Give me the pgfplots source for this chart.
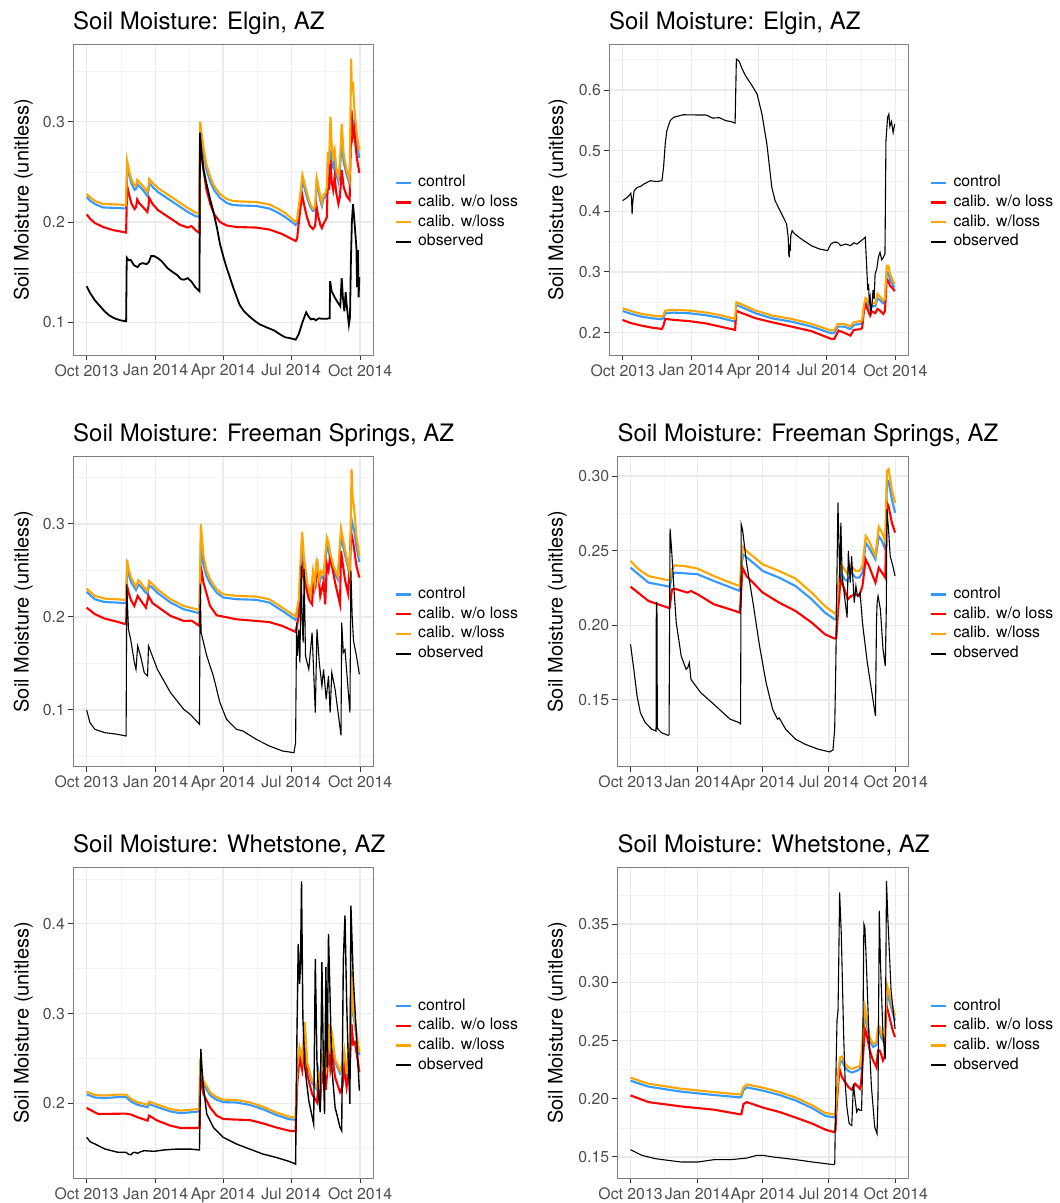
\documentclass[border=0pt]{standalone}
\usepackage{fontspec}
\setmainfont{TeX Gyre Heros}
\usepackage{pgfplots}
\pgfplotsset{compat=1.18}

\definecolor{serblue}{RGB}{51,153,255}
\definecolor{serred}{RGB}{255,0,0}
\definecolor{serorange}{RGB}{255,165,0}
\definecolor{pborder}{RGB}{127,127,127}
\definecolor{tickc}{RGB}{51,51,51}
\definecolor{tlabc}{RGB}{77,77,77}
\definecolor{gridmaj}{RGB}{235,235,235}
\definecolor{gridmin}{RGB}{243,243,243}

\newcommand\titlefont{\fontsize{24}{28}\selectfont}
\newcommand\labfont{\fontsize{20}{24}\selectfont}
\newcommand\tickfont{\fontsize{15.8}{19}\selectfont}

\pgfplotsset{
 smp/.style={
  scale only axis, anchor=north west,
  xmin=-18.2, xmax=382.2,
  xtick={0,92,182,273,365},
  xticklabels={Oct 2013,Jan 2014,Apr 2014,Jul 2014,Oct 2014},
  minor xtick={46,137,227.5,319},
  grid=both,
  major grid style={draw=gridmaj, line width=1.3pt},
  minor grid style={draw=gridmin, line width=0.7pt},
  axis line style={draw=pborder, line width=1pt},
  tick align=outside, xtick pos=bottom, ytick pos=left,
  major tick length=5pt, minor tick length=0pt,
  major tick style={draw=tickc, line width=1pt},
  tick label style={font=\tickfont, text=tlabc},
  xticklabel style={anchor=north, inner sep=0pt, yshift=-4pt},
  yticklabel style={anchor=east, inner sep=0pt, xshift=-3pt},
  /pgf/number format/assume math mode=true,
  every axis title/.style={at={(axis description cs:0,1)}, anchor=base west, yshift=15pt, inner sep=0pt, font=\titlefont, text=black},
  every axis y label/.style={rotate=90, anchor=base, inner sep=0pt, font=\labfont},
  ylabel={Soil Moisture (unitless)},
  legend style={at={(axis description cs:1,0.459)}, anchor=west, xshift=22pt, draw=none, fill=none, inner sep=0pt, outer sep=0pt, font=\tickfont, row sep=3.7pt, column sep=6pt, nodes={inner sep=0pt, text height=12pt, text depth=4pt}},
  legend cell align=left,
  legend image code/.code={\draw[#1, line width=2.2pt] (0pt,0pt) -- (15pt,0pt);},
 },
}

\begin{document}
\begin{tikzpicture}
\useasboundingbox (0pt,0pt) rectangle (1060pt,-1203pt);

% ---------------- Panel 1: Elgin (left) ----------------
\begin{axis}[smp, at={(73pt,-44pt)}, width=300pt, height=311pt,
  ymin=0.0674, ymax=0.3775, ytick={0.1,0.2,0.3}, yticklabels={0.1,0.2,0.3},
  minor ytick={0.15,0.25,0.35},
  ylabel style={at={(axis description cs:-0.148,0.5)}},
  title={Soil Moisture: Elgin, AZ}]
\addplot[color=serblue, line width=2.1pt, mark=none] coordinates {(0,0.225) (5,0.221) (11,0.218) (22,0.2145) (40,0.214) (52.7,0.2135) (54,0.256) (57,0.246) (60,0.238) (64,0.232) (66,0.233) (67.5,0.238) (70,0.236) (75,0.232) (81,0.226) (82.6,0.232) (83.5,0.239) (88,0.235) (95,0.230) (105,0.225) (115,0.220) (125,0.215) (135,0.210) (145,0.206) (150.6,0.205) (151.5,0.293) (153,0.285) (156,0.268) (160,0.252) (165,0.240) (170,0.232) (178,0.224) (187,0.219) (195,0.217) (205,0.2165) (226,0.216) (244,0.2135) (255,0.2095) (265,0.205) (279,0.197) (281,0.199) (284,0.215) (286,0.228) (288,0.241) (290,0.236) (294,0.225) (298,0.216) (302,0.211) (305,0.212) (307,0.238) (309,0.232) (312,0.221) (314,0.216) (316,0.223) (319,0.225) (320.6,0.230) (322,0.257) (324,0.248) (325.5,0.272) (327,0.26) (329,0.255) (331,0.262) (333,0.248) (336,0.24) (338,0.25) (340.5,0.283) (343,0.26) (347,0.247) (351,0.238) (352.5,0.29) (353.5,0.311) (355,0.295) (357,0.300) (359,0.285) (361,0.275) (364,0.264)};
\addlegendentry{control}
\addplot[color=serred, line width=2.1pt, mark=none] coordinates {(0,0.2075) (5,0.203) (11,0.199) (22,0.195) (35,0.192) (52.7,0.1895) (54,0.236) (57,0.226) (60,0.218) (64,0.213) (66,0.215) (67.5,0.2225) (70,0.219) (75,0.215) (81,0.210) (82.6,0.216) (83.5,0.224) (88,0.218) (95,0.212) (105,0.207) (115,0.202) (125,0.197) (135,0.1945) (140,0.196) (145,0.192) (150.6,0.189) (151.5,0.285) (153,0.272) (156,0.252) (160,0.232) (165,0.218) (170,0.208) (178,0.200) (187,0.1965) (200,0.195) (226,0.1945) (244,0.1925) (261,0.188) (279,0.181) (281,0.184) (284,0.205) (286,0.218) (288,0.226) (290,0.218) (294,0.205) (298,0.196) (302,0.193) (305,0.196) (307,0.215) (309,0.206) (312,0.197) (314,0.194) (316,0.198) (319,0.202) (320.6,0.205) (322,0.245) (323.5,0.232) (325.5,0.262) (327,0.240) (329,0.232) (331,0.245) (333,0.230) (336,0.218) (338,0.225) (340.5,0.252) (343,0.235) (347,0.226) (351,0.222) (352,0.26) (353.5,0.311) (355,0.285) (357,0.293) (359,0.275) (361,0.262) (364,0.249)};
\addlegendentry{calib. w/o loss}
\addplot[color=serorange, line width=2.1pt, mark=none] coordinates {(0,0.228) (5,0.2245) (11,0.221) (22,0.218) (40,0.2175) (52.7,0.217) (54,0.261) (57,0.250) (60,0.242) (64,0.236) (66,0.237) (67.5,0.242) (70,0.240) (75,0.236) (81,0.230) (82.6,0.236) (83.5,0.243) (88,0.239) (95,0.234) (105,0.229) (115,0.224) (125,0.219) (135,0.214) (145,0.2095) (150.6,0.2085) (151.5,0.300) (153,0.291) (156,0.274) (160,0.257) (165,0.245) (170,0.236) (178,0.228) (187,0.223) (195,0.221) (205,0.2205) (226,0.220) (244,0.2175) (255,0.2135) (265,0.209) (279,0.200) (281,0.203) (284,0.220) (286,0.233) (288,0.247) (290,0.241) (294,0.229) (298,0.219) (302,0.213) (305,0.215) (307,0.244) (309,0.237) (312,0.225) (314,0.219) (316,0.227) (319,0.229) (320.6,0.235) (322,0.270) (323.5,0.258) (325.5,0.305) (327,0.278) (329,0.265) (331,0.272) (333,0.255) (336,0.245) (338,0.258) (340.5,0.298) (343,0.268) (347,0.252) (351,0.241) (352,0.30) (353,0.363) (354,0.33) (355.5,0.340) (357,0.315) (359,0.300) (361,0.285) (364,0.271)};
\addlegendentry{calib. w/loss}
\addplot[color=black, line width=1.8pt, mark=none] coordinates {(0,0.136) (4,0.130) (11,0.122) (18,0.116) (24,0.111) (30,0.107) (37,0.104) (45,0.102) (52.7,0.101) (53.5,0.1645) (56,0.162) (59,0.162) (63,0.157) (68,0.155) (71,0.158) (75,0.159) (80,0.158) (83,0.160) (86,0.166) (90,0.166) (95,0.164) (100,0.161) (108,0.154) (115,0.150) (121,0.147) (126,0.143) (130,0.1425) (135,0.144) (140,0.1405) (145,0.135) (150.6,0.131) (151.3,0.289) (153,0.270) (156,0.252) (160,0.238) (165,0.222) (169,0.211) (174,0.194) (178,0.178) (183,0.164) (187,0.154) (192,0.143) (196,0.134) (204,0.1177) (210,0.111) (217,0.106) (225,0.101) (231,0.098) (240,0.095) (250,0.092) (257,0.0885) (265,0.085) (271,0.0843) (279,0.0827) (283,0.088) (288,0.100) (293,0.110) (296,0.106) (299,0.103) (303,0.1035) (306,0.102) (310,0.104) (314,0.1035) (320,0.1035) (324.3,0.104) (325,0.141) (327,0.131) (331,0.125) (335,0.120) (338.5,0.116) (340.4,0.144) (342,0.125) (344,0.111) (345.7,0.130) (347,0.118) (350,0.0975) (351.5,0.105) (352.7,0.161) (354,0.200) (355.5,0.2177) (357,0.205) (358.5,0.19) (360,0.175) (361,0.135) (362,0.172) (363,0.125) (364,0.145)};
\addlegendentry{observed}
\end{axis}

% ---------------- Panel 2: Elgin (right) ----------------
\begin{axis}[smp, at={(609pt,-44pt)}, width=299.3pt, height=311pt,
  ymin=0.163, ymax=0.676, ytick={0.2,0.3,0.4,0.5,0.6}, yticklabels={0.2,0.3,0.4,0.5,0.6},
  minor ytick={0.25,0.35,0.45,0.55,0.65},
  ylabel style={at={(axis description cs:-0.1537,0.5)}},
  title={Soil Moisture: Elgin, AZ}]
\addplot[color=serblue, line width=2.1pt, mark=none] coordinates {(0,0.2356) (10,0.2315) (25,0.2263) (40,0.2235) (52.6,0.2219) (54.8,0.2245) (57,0.2318) (68,0.2329) (90,0.2318) (112,0.2285) (130,0.2245) (150.5,0.218) (152.2,0.2455) (155.7,0.244) (178,0.2318) (200,0.2235) (226,0.218) (253,0.2098) (279,0.1988) (283,0.1995) (288,0.2098) (296,0.2098) (304.9,0.206) (309.3,0.2125) (318,0.2145) (320.5,0.2155) (322.8,0.238) (325,0.250) (327,0.249) (331.2,0.2373) (333.4,0.244) (338,0.2435) (341,0.2565) (344.4,0.2535) (348.8,0.2482) (351,0.25) (353.3,0.2995) (355.5,0.299) (357.7,0.288) (362,0.2775) (364,0.2747)};
\addlegendentry{control}
\addplot[color=serred, line width=2.1pt, mark=none] coordinates {(0,0.2209) (10,0.216) (25,0.2115) (40,0.208) (52.6,0.206) (54.8,0.212) (57,0.2225) (68,0.221) (90,0.2187) (112,0.215) (130,0.210) (150.5,0.2044) (152.2,0.2363) (155.7,0.234) (178,0.2236) (200,0.217) (226,0.2099) (253,0.2022) (279,0.1896) (283,0.1896) (289,0.2033) (296,0.2000) (304.9,0.195) (309.3,0.2044) (318,0.2055) (320.5,0.2077) (322.8,0.2363) (325,0.2473) (327,0.240) (331.2,0.228) (333.4,0.235) (338,0.232) (341,0.239) (344.4,0.236) (348.8,0.2308) (351,0.236) (353.3,0.2885) (355.5,0.285) (357.7,0.2775) (362,0.272) (364,0.2681)};
\addlegendentry{calib. w/o loss}
\addplot[color=serorange, line width=2.1pt, mark=none] coordinates {(0,0.2401) (10,0.236) (25,0.2308) (40,0.228) (52.6,0.2264) (54.8,0.2290) (57,0.2363) (68,0.2374) (90,0.2363) (112,0.2330) (130,0.229) (150.5,0.2225) (152.2,0.2500) (155.7,0.2485) (178,0.2363) (200,0.228) (226,0.2225) (253,0.2143) (279,0.2033) (283,0.2040) (288,0.2143) (296,0.2143) (304.9,0.2105) (309.3,0.217) (318,0.219) (320.5,0.220) (322.8,0.2445) (325,0.2571) (327,0.255) (331.2,0.2418) (333.4,0.249) (338,0.248) (341,0.2637) (344.4,0.259) (348.8,0.2527) (351,0.255) (353.3,0.3104) (355.5,0.3104) (357.7,0.2967) (362,0.2846) (364,0.2802)};
\addlegendentry{calib. w/loss}
\addplot[color=black, line width=1.1pt, mark=none] coordinates {(0,0.4176) (4.4,0.4214) (8.8,0.426) (11,0.430) (12,0.420) (12.7,0.3956) (13.4,0.412) (14,0.420) (15.4,0.434) (19.7,0.4396) (24,0.441) (28.5,0.445) (33,0.448) (37.3,0.4505) (45,0.449) (52.6,0.4505) (54.8,0.4725) (57,0.511) (59.2,0.533) (63.6,0.5495) (68,0.555) (81.2,0.5593) (95,0.559) (111.9,0.5588) (120.6,0.5538) (129.4,0.5545) (138.2,0.5495) (145,0.548) (150.5,0.5456) (152.2,0.651) (155.7,0.648) (160.1,0.6346) (164.5,0.6236) (173.3,0.607) (179.9,0.5934) (186.4,0.5604) (193,0.511) (199.6,0.4396) (204,0.4176) (212.8,0.3956) (219.4,0.3791) (221.5,0.357) (222.3,0.33) (222.9,0.3242) (223.5,0.345) (224.2,0.335) (225,0.36) (226.8,0.3681) (230.3,0.3626) (239.1,0.3544) (252.3,0.3434) (263.2,0.3379) (274.2,0.3352) (278.6,0.3462) (283,0.349) (287.3,0.3489) (291.7,0.3434) (298.3,0.346) (304.9,0.3434) (309.3,0.348) (313.7,0.346) (324.6,0.3571) (326.8,0.3022) (328,0.270) (329,0.2802) (330,0.25) (331.2,0.2582) (332,0.235) (333.4,0.2418) (335,0.27) (336.5,0.255) (337.8,0.2967) (340,0.305) (342.2,0.3242) (344.4,0.3324) (346.6,0.320) (348.8,0.324) (351,0.330) (352.3,0.5165) (354.5,0.555) (356.2,0.5604) (357.5,0.540) (359.7,0.548) (361.9,0.530) (364,0.544)};
\addlegendentry{observed}
\end{axis}

% ---------------- Panel 3: Freeman Springs (left) ----------------
\begin{axis}[smp, at={(73pt,-456pt)}, width=300pt, height=310.7pt,
  ymin=0.039, ymax=0.373, ytick={0.1,0.2,0.3}, yticklabels={0.1,0.2,0.3},
  minor ytick={0.05,0.15,0.25,0.35},
  ylabel style={at={(axis description cs:-0.148,0.5)}},
  title={Soil Moisture: Freeman Springs, AZ}]
\addplot[color=serblue, line width=2.1pt, mark=none] coordinates {(0,0.227) (11,0.219) (24,0.216) (40,0.2155) (52.7,0.2148) (54,0.254) (56,0.246) (59.3,0.2375) (65.9,0.229) (69,0.235) (72,0.233) (76.9,0.228) (81.3,0.2245) (83.4,0.234) (87,0.232) (94.4,0.226) (112,0.2155) (129.6,0.2083) (150.6,0.204) (152.4,0.272) (154,0.265) (155.9,0.256) (160,0.244) (164.7,0.236) (173.5,0.2262) (182.3,0.2209) (199.8,0.2191) (226.2,0.2184) (243.8,0.2155) (261.3,0.2065) (278.9,0.1968) (283.3,0.214) (285.5,0.252) (287.7,0.280) (289.9,0.258) (294.3,0.2334) (298.7,0.219) (302.2,0.244) (304.4,0.231) (307.4,0.256) (310.5,0.236) (313.1,0.244) (316.2,0.2415) (320.6,0.276) (322.8,0.272) (325,0.263) (329.4,0.250) (335.1,0.2405) (339.5,0.285) (342.6,0.275) (349.2,0.2513) (351.4,0.242) (353.6,0.305) (354.9,0.300) (357.1,0.293) (360.1,0.275) (364,0.259)};
\addlegendentry{control}
\addplot[color=serred, line width=2.1pt, mark=none] coordinates {(0,0.21) (11,0.203) (24,0.1982) (40,0.195) (52.7,0.1921) (54,0.2333) (56,0.226) (59.3,0.218) (63.7,0.2118) (68.1,0.2226) (72,0.218) (79.1,0.21) (82.6,0.2226) (87.8,0.215) (112,0.2011) (129.6,0.1957) (140,0.196) (150.6,0.1903) (152.4,0.2548) (155.9,0.2369) (164.7,0.2118) (173.5,0.2018) (199.8,0.1975) (226.2,0.1957) (243.8,0.1945) (261.3,0.1903) (278.9,0.1839) (283.3,0.2011) (286,0.235) (287.7,0.2548) (289.9,0.243) (296.5,0.219) (300.9,0.2136) (303,0.245) (305.2,0.230) (307.4,0.262) (311.8,0.2226) (316.2,0.238) (318.4,0.2136) (320.6,0.2566) (322.8,0.250) (325,0.2656) (331.6,0.2369) (338.2,0.2136) (339.5,0.271) (344.8,0.240) (349.2,0.2244) (352.7,0.292) (355.8,0.28) (360.1,0.2548) (364,0.2423)};
\addlegendentry{calib. w/o loss}
\addplot[color=serorange, line width=2.1pt, mark=none] coordinates {(0,0.2305) (11,0.2226) (24,0.2197) (40,0.219) (52.7,0.2183) (54,0.2613) (56,0.252) (59.3,0.2423) (65.9,0.2326) (69,0.2394) (72,0.237) (76.9,0.2315) (81.3,0.228) (83.4,0.2387) (87,0.236) (94.4,0.2297) (112,0.219) (129.6,0.2118) (150.6,0.2075) (152.4,0.2996) (154,0.285) (155.9,0.2656) (160,0.250) (164.7,0.2405) (173.5,0.2297) (182.3,0.2244) (199.8,0.2226) (226.2,0.2219) (243.8,0.219) (261.3,0.21) (278.9,0.2003) (283.3,0.219) (285.5,0.26) (287.7,0.2914) (289.9,0.265) (294.3,0.2369) (298.7,0.2226) (302.2,0.2495) (304.4,0.235) (307.4,0.2627) (310.5,0.240) (313.1,0.2495) (316.2,0.2459) (320.6,0.2853) (322.8,0.28) (325,0.2692) (329.4,0.255) (335.1,0.2441) (339.5,0.295) (342.6,0.282) (349.2,0.2548) (351.4,0.246) (353.6,0.3588) (354.9,0.3301) (357.1,0.3158) (360.1,0.2871) (364,0.2656)};
\addlegendentry{calib. w/loss}
\addplot[color=black, line width=1.1pt, mark=none] coordinates {(0,0.1) (4.4,0.0864) (11,0.0792) (24.2,0.0756) (40,0.074) (52.7,0.072) (53.5,0.2351) (55.8,0.1867) (59,0.175) (63.7,0.1509) (65.9,0.1437) (68.1,0.1688) (72,0.158) (76.9,0.1401) (81.3,0.1366) (82.6,0.1688) (94.4,0.1437) (112,0.1186) (129.6,0.1007) (138.3,0.0953) (150.6,0.0846) (151.5,0.236) (152.8,0.1832) (160.3,0.1581) (169.1,0.1366) (177.9,0.1079) (186.7,0.09) (199.8,0.0792) (208.6,0.0774) (226.2,0.0685) (243.8,0.0613) (261.3,0.0559) (276.7,0.0541) (278.9,0.0649) (280.2,0.1939) (281.5,0.1581) (283.3,0.1867) (284.6,0.1509) (286.4,0.2548) (287.7,0.1939) (289,0.1724) (290.3,0.2514) (292.1,0.1581) (296.5,0.1437) (300.9,0.1832) (305.2,0.0971) (307.4,0.1867) (310.5,0.1509) (314,0.1258) (316.2,0.1437) (319.7,0.1115) (322.8,0.1366) (325,0.0971) (327.2,0.1401) (331.6,0.1222) (339.5,0.0727) (340.4,0.1939) (342.6,0.1617) (344.8,0.165) (351.4,0.0971) (352.7,0.25) (354.4,0.201) (356.2,0.1742) (360.1,0.1581) (364,0.1384)};
\addlegendentry{observed}
\end{axis}

% ---------------- Panel 4: Freeman Springs (right) ----------------
\begin{axis}[smp, at={(617.3pt,-456pt)}, width=291pt, height=310.7pt,
  ymin=0.1053, ymax=0.3134, ytick={0.15,0.20,0.25,0.30}, yticklabels={0.15,0.20,0.25,0.30},
  minor ytick={0.125,0.175,0.225,0.275},
  ylabel style={at={(axis description cs:-0.1876,0.5)}},
  title={Soil Moisture: Freeman Springs, AZ}]
\addplot[color=serblue, line width=2.1pt, mark=none] coordinates {(0,0.2386) (24.7,0.2286) (53.9,0.2259) (57,0.233) (60.7,0.2353) (92.2,0.2342) (114.6,0.2297) (150.5,0.223) (152.8,0.240) (155,0.2475) (182,0.2364) (204.5,0.2319) (227,0.2263) (249.4,0.2174) (267.4,0.2085) (280.9,0.204) (283.1,0.204) (285.4,0.222) (289.9,0.2353) (294.4,0.2308) (298.8,0.2297) (303.3,0.2353) (310.1,0.2319) (314.6,0.2319) (319.1,0.2353) (323.6,0.2554) (328.1,0.2520) (337,0.2442) (341.5,0.2598) (346,0.2565) (350.5,0.2509) (352.8,0.296) (355,0.2965) (359.5,0.2844) (364,0.2754)};
\addlegendentry{control}
\addplot[color=serred, line width=2.1pt, mark=none] coordinates {(0,0.2259) (24.7,0.2163) (51.7,0.2118) (53.9,0.2118) (57,0.2241) (60.7,0.2245) (78.6,0.2219) (83.1,0.223) (92.2,0.2208) (114.6,0.2141) (137.1,0.2107) (150.5,0.2085) (154.1,0.2386) (159.5,0.233) (182,0.2219) (204.5,0.2152) (227,0.2096) (249.4,0.2018) (267.4,0.194) (280.9,0.1911) (283.1,0.1915) (285.4,0.2085) (289,0.2308) (294.4,0.2241) (298.8,0.2174) (303.3,0.2196) (310.1,0.2208) (314.6,0.2196) (319.1,0.2263) (323.6,0.2442) (328.1,0.2397) (337,0.2286) (341.5,0.2386) (346,0.2353) (350.5,0.2319) (352.8,0.2821) (355,0.2799) (359.5,0.2688) (364,0.2621)};
\addlegendentry{calib. w/o loss}
\addplot[color=serorange, line width=2.1pt, mark=none] coordinates {(0,0.2431) (11.2,0.2375) (24.7,0.233) (49.4,0.2304) (53.9,0.2304) (57,0.2375) (60.7,0.2402) (74.2,0.2397) (92.2,0.238) (114.6,0.233) (137.1,0.2286) (150.5,0.2263) (152.8,0.2464) (155,0.2527) (159.5,0.2498) (182,0.2408) (204.5,0.2364) (227,0.2313) (249.4,0.2219) (267.4,0.2129) (280.9,0.208) (283.1,0.2074) (285.4,0.2263) (289.9,0.2408) (294.4,0.2375) (298.8,0.2342) (303.3,0.2397) (310.1,0.2364) (314.6,0.2364) (319.1,0.2397) (323.6,0.2598) (328.1,0.2565) (337,0.2464) (341.5,0.2661) (346,0.262) (350.5,0.2565) (352.8,0.3033) (355,0.3045) (359.5,0.2911) (364,0.282)};
\addlegendentry{calib. w/loss}
\addplot[color=black, line width=1.1pt, mark=none] coordinates {(0,0.1873) (4.5,0.1705) (9,0.1527) (13.5,0.1415) (20.2,0.1348) (29.2,0.1304) (35.1,0.1292) (35.5,0.2152) (36.3,0.2152) (36.9,0.131) (42.7,0.1281) (51.7,0.1263) (53,0.1268) (54.4,0.2647) (56.2,0.2531) (59.8,0.2241) (62.9,0.2018) (69.7,0.1795) (76.4,0.1705) (79,0.172) (80.9,0.175) (83.1,0.1638) (96.6,0.1549) (114.6,0.1471) (137.1,0.1371) (149.7,0.1348) (151.4,0.134) (152.3,0.2676) (154.1,0.2642) (159.5,0.242) (168.5,0.2152) (177.5,0.1862) (186.5,0.1616) (195.5,0.1438) (202.2,0.1371) (204.5,0.138) (213.5,0.1304) (227,0.1237) (240.4,0.1203) (258.4,0.117) (274.1,0.1152) (278.6,0.1166) (280.9,0.1304) (282.5,0.175) (283.6,0.2196) (285.4,0.2821) (286.7,0.2554) (288.1,0.2286) (289.4,0.2688) (291.2,0.2330) (294.4,0.2196) (298,0.2051) (299.7,0.2498) (302.4,0.2286) (304.2,0.2464) (307.8,0.2152) (310.1,0.2263) (312.3,0.2196) (315.9,0.2219) (319.1,0.2018) (325.8,0.175) (337,0.1393) (338.4,0.2018) (339.3,0.2152) (340.6,0.2196) (343.8,0.2107) (347.4,0.1839) (350.5,0.1728) (351.9,0.2107) (352.8,0.2777) (355,0.2642) (357.3,0.2464) (360.9,0.2397) (364,0.233)};
\addlegendentry{observed}
\end{axis}

% ---------------- Panel 5: Whetstone (left) ----------------
\begin{axis}[smp, at={(73pt,-867.3pt)}, width=300pt, height=311pt,
  ymin=0.1164, ymax=0.463, ytick={0.2,0.3,0.4}, yticklabels={0.2,0.3,0.4},
  minor ytick={0.15,0.25,0.35,0.45},
  ylabel style={at={(axis description cs:-0.148,0.5)}},
  title={Soil Moisture: Whetstone, AZ}]
\addplot[color=serblue, line width=2.1pt, mark=none] coordinates {(0,0.210) (11,0.2065) (24.2,0.2058) (41.7,0.2069) (52.7,0.2069) (59.3,0.202) (68.1,0.1983) (81.3,0.1957) (83.4,0.1991) (94.4,0.1957) (112,0.1909) (125.2,0.189) (150.6,0.1909) (151.5,0.235) (155.9,0.2215) (164.7,0.209) (173.5,0.2039) (182.3,0.2013) (199.8,0.2009) (217.4,0.1983) (235,0.1935) (252.5,0.1872) (270.1,0.1823) (278.9,0.1816) (281.1,0.236) (284.2,0.258) (287.7,0.246) (291.2,0.283) (294.3,0.242) (300.9,0.2225) (307.4,0.2155) (309.6,0.233) (311.8,0.214) (314,0.251) (316.2,0.233) (317.5,0.258) (319.3,0.229) (321.5,0.255) (323.7,0.282) (325.4,0.252) (328.1,0.269) (331.6,0.246) (338.2,0.2335) (341.3,0.241) (343.9,0.255) (347,0.230) (351.4,0.266) (353.6,0.335) (355.8,0.298) (358,0.288) (362.3,0.262) (364,0.254)};
\addlegendentry{control}
\addplot[color=serred, line width=2.1pt, mark=none] coordinates {(0,0.1948) (15.4,0.1881) (52.7,0.1885) (59.3,0.1875) (68.1,0.1844) (81.3,0.1807) (83.4,0.1863) (94.4,0.1807) (112,0.1751) (125.2,0.1725) (150.6,0.1725) (151.5,0.2309) (155.9,0.2104) (164.7,0.1955) (173.5,0.1863) (182.3,0.1825) (199.8,0.1818) (217.4,0.1814) (235,0.1777) (252.5,0.1732) (270.1,0.1695) (278.9,0.1688) (281.1,0.222) (284.2,0.2513) (287.7,0.237) (291.2,0.2699) (294.3,0.2327) (300.9,0.2104) (307.4,0.2011) (309.6,0.2216) (311.8,0.2030) (314,0.2364) (316.2,0.222) (317.5,0.245) (319.3,0.215) (321.5,0.240) (323.7,0.2662) (325.4,0.238) (328.1,0.252) (331.6,0.229) (338.2,0.2123) (341.3,0.218) (343.9,0.2401) (347,0.218) (351.4,0.2439) (353.6,0.2885) (355.8,0.266) (358,0.268) (362.3,0.245) (364,0.2346)};
\addlegendentry{calib. w/o loss}
\addplot[color=serorange, line width=2.1pt, mark=none] coordinates {(0,0.213) (11,0.2093) (24.2,0.2086) (41.7,0.2097) (52.7,0.2097) (59.3,0.2048) (68.1,0.2011) (81.3,0.1985) (83.4,0.2019) (94.4,0.1985) (112,0.1937) (125.2,0.1918) (150.6,0.1937) (151.5,0.2409) (155.9,0.2253) (164.7,0.2123) (173.5,0.2067) (182.3,0.2041) (199.8,0.2037) (217.4,0.2011) (235,0.1963) (252.5,0.19) (270.1,0.1851) (278.9,0.1844) (281.1,0.2401) (284.2,0.2625) (287.7,0.2495) (291.2,0.2903) (294.3,0.2457) (300.9,0.2253) (307.4,0.2178) (309.6,0.2364) (311.8,0.216) (314,0.255) (316.2,0.236) (317.5,0.2625) (319.3,0.232) (321.5,0.259) (323.7,0.2885) (325.4,0.255) (328.1,0.2736) (331.6,0.2494) (338.2,0.2364) (341.3,0.2439) (343.9,0.2587) (347,0.2327) (351.4,0.2699) (353.6,0.348) (355.8,0.3033) (358,0.2922) (362.3,0.2662) (364,0.2569)};
\addlegendentry{calib. w/loss}
\addplot[color=black, line width=1.4pt, mark=none] coordinates {(0,0.1621) (5,0.157) (11,0.1547) (24.2,0.1491) (41.7,0.1454) (52.7,0.1454) (56,0.143) (59.3,0.1428) (62,0.145) (63.7,0.1454) (68.1,0.1443) (72,0.146) (76.9,0.1472) (90,0.1465) (103.2,0.148) (120.8,0.149) (138.3,0.149) (150.6,0.148) (152.4,0.2606) (155,0.2253) (160.3,0.1881) (169.1,0.1732) (182.3,0.1621) (199.8,0.1547) (217.4,0.1491) (235,0.1435) (252.5,0.1398) (270.1,0.1353) (278.9,0.1323) (280.6,0.2699) (282.4,0.3777) (284.2,0.333) (285.5,0.3554) (286.8,0.4472) (288.6,0.2959) (291.2,0.2401) (296.5,0.203) (303,0.177) (305.2,0.361) (307.4,0.2476) (309.6,0.206) (311.8,0.19) (314,0.3572) (316.2,0.2327) (317.5,0.1881) (319.3,0.3517) (321,0.2401) (322.8,0.3888) (325,0.3145) (327.2,0.2401) (331.6,0.1955) (338.2,0.1732) (340.4,0.1695) (342.6,0.3591) (344.8,0.4093) (347,0.3145) (349.2,0.2476) (351.4,0.1993) (352.7,0.4204) (355.8,0.3405) (358,0.3071) (361.5,0.255) (364,0.2141)};
\addlegendentry{observed}
\end{axis}

% ---------------- Panel 6: Whetstone (right) ----------------
\begin{axis}[smp, at={(617.3pt,-867.3pt)}, width=291pt, height=311pt,
  ymin=0.1317, ymax=0.3987, ytick={0.15,0.20,0.25,0.30,0.35}, yticklabels={0.15,0.20,0.25,0.30,0.35},
  minor ytick={0.175,0.225,0.275,0.325,0.375},
  ylabel style={at={(axis description cs:-0.1876,0.5)}},
  title={Soil Moisture: Whetstone, AZ}]
\addplot[color=serblue, line width=2.1pt, mark=none] coordinates {(0,0.2155) (24.8,0.2104) (69.9,0.2061) (115,0.2032) (151.1,0.2012) (152.4,0.2018) (155.6,0.2075) (160.1,0.2098) (182.7,0.2069) (205.2,0.2032) (227.8,0.1984) (250.3,0.1918) (268.3,0.1852) (279.6,0.1841) (281.9,0.1845) (284.1,0.2015) (286.4,0.224) (288.6,0.232) (290.9,0.2325) (295.4,0.2265) (299.9,0.2238) (304.4,0.2225) (311.2,0.224) (315.7,0.2255) (317.9,0.235) (320.2,0.257) (322.5,0.2729) (324.7,0.265) (329.2,0.2495) (333.7,0.2445) (338.3,0.246) (340.5,0.2575) (342.8,0.258) (345,0.2525) (347.3,0.25) (349.5,0.2525) (351.8,0.2780) (353.1,0.290) (356.3,0.284) (360.8,0.2735) (364,0.2671)};
\addlegendentry{control}
\addplot[color=serred, line width=2.1pt, mark=none] coordinates {(0,0.2029) (24.8,0.1971) (69.9,0.1934) (115,0.1906) (151.1,0.1866) (152.4,0.1866) (155.6,0.1957) (160.1,0.1971) (182.7,0.1923) (205.2,0.1886) (227.8,0.1837) (250.3,0.1786) (268.3,0.1734) (279.6,0.1714) (281.9,0.173) (284.1,0.1986) (287.3,0.2257) (290.9,0.2186) (295.4,0.2143) (299.9,0.21) (304.4,0.2077) (308.9,0.2129) (311.2,0.2115) (315.7,0.2086) (317.1,0.213) (318.9,0.2271) (322.5,0.26) (324.7,0.2557) (329.2,0.2414) (333.7,0.2329) (338.3,0.2271) (340.5,0.2414) (342.8,0.2414) (345,0.238) (347.3,0.2329) (349.5,0.2357) (351.8,0.2814) (353.1,0.278) (356.3,0.27) (360.8,0.2586) (364,0.2529)};
\addlegendentry{calib. w/o loss}
\addplot[color=serorange, line width=2.1pt, mark=none] coordinates {(0,0.218) (24.8,0.2129) (69.9,0.2086) (115,0.2057) (151.1,0.2037) (152.4,0.2043) (155.6,0.21) (160.1,0.2123) (182.7,0.2094) (205.2,0.2057) (227.8,0.2009) (250.3,0.1943) (268.3,0.1877) (279.6,0.1866) (281.9,0.187) (284.1,0.2043) (286.4,0.2271) (288.6,0.2357) (290.9,0.2363) (295.4,0.23) (299.9,0.2271) (304.4,0.2257) (311.2,0.2271) (315.7,0.2286) (317.9,0.2386) (320.2,0.2614) (322.5,0.2786) (324.7,0.27) (329.2,0.2529) (333.7,0.2471) (338.3,0.2486) (340.5,0.2614) (342.8,0.262) (345,0.2557) (347.3,0.2529) (349.5,0.2557) (351.8,0.2843) (353.1,0.2971) (356.3,0.29) (360.8,0.2786) (364,0.2714)};
\addlegendentry{calib. w/loss}
\addplot[color=black, line width=1.1pt, mark=none] coordinates {(0,0.1563) (15.8,0.1514) (33.8,0.1486) (51.9,0.1471) (69.9,0.1457) (92.5,0.1457) (115,0.1477) (137.6,0.1477) (160.1,0.1491) (173.6,0.1514) (182.7,0.1514) (196.2,0.150) (227.8,0.1477) (250.3,0.1457) (268.3,0.1443) (279.6,0.1434) (281,0.1443) (282.8,0.2271) (284.1,0.2671) (285.5,0.2757) (286.4,0.3129) (287.7,0.3771) (290,0.3414) (293.2,0.2557) (295.4,0.2129) (297.7,0.1929) (300.8,0.1786) (304.4,0.1771) (306.7,0.2129) (308.9,0.2) (311.2,0.1886) (313.4,0.1914) (315.7,0.190) (317.9,0.190) (319.3,0.2271) (321.1,0.35) (322.5,0.347) (324.7,0.3129) (327.9,0.2557) (331.5,0.21) (336,0.1757) (339.2,0.17) (340.5,0.2) (342.3,0.3614) (344.1,0.3129) (347.3,0.2557) (350.4,0.2343) (352.2,0.3871) (354,0.3557) (358.5,0.2929) (364,0.26)};
\addlegendentry{observed}
\end{axis}
\end{tikzpicture}
\end{document}
